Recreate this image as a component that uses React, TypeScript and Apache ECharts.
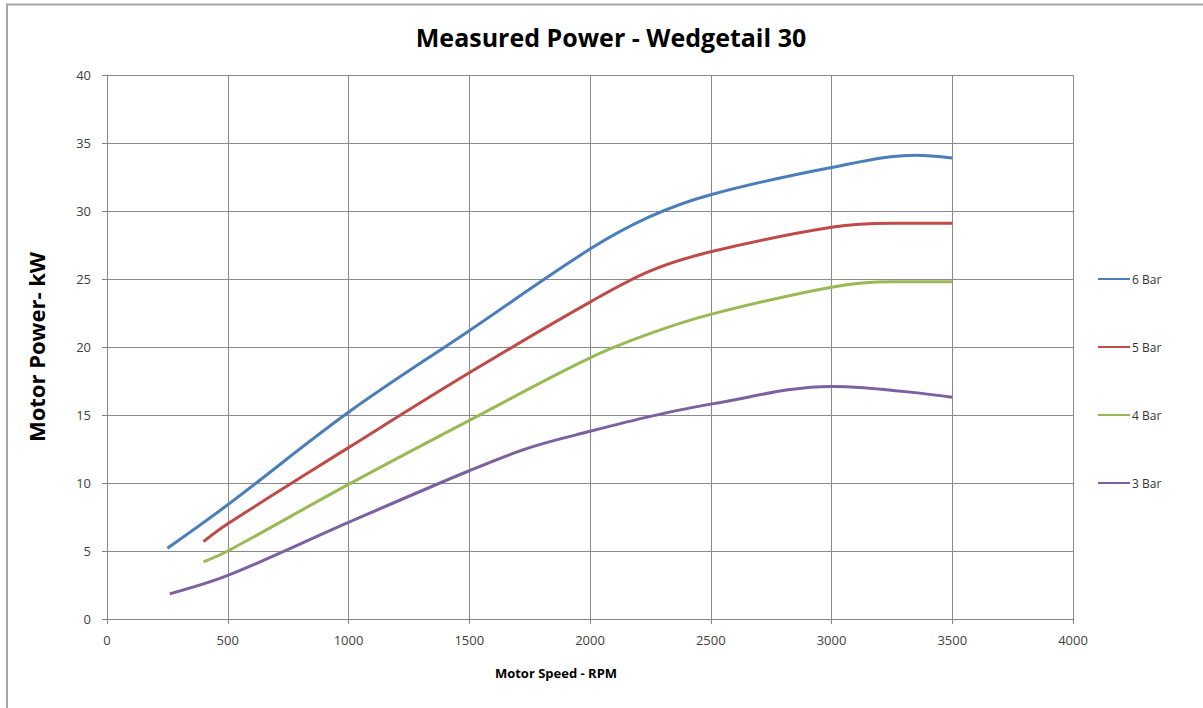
import React, { useEffect, useRef } from "react";
import * as echarts from "echarts";

const seriesNames = ["6 Bar", "5 Bar", "4 Bar", "3 Bar"];
const colors = ["#4A7EBB", "#BE4B48", "#98B954", "#7D60A0"];

const bar6: [number, number][] = [
  [250, 5.2], [500, 8.4], [1000, 15.2], [1500, 21.2], [2000, 27.2],
  [2250, 29.6], [2500, 31.2], [3000, 33.2], [3350, 34.1], [3500, 33.9],
];
const bar5: [number, number][] = [
  [400, 5.7], [500, 7.0], [1000, 12.6], [1500, 18.1], [2000, 23.3],
  [2250, 25.6], [2500, 27.0], [3000, 28.8], [3250, 29.1], [3500, 29.1],
];
const bar4: [number, number][] = [
  [400, 4.2], [500, 5.0], [1000, 9.9], [1500, 14.6], [2000, 19.2],
  [2250, 21.0], [2500, 22.4], [3000, 24.4], [3250, 24.8], [3500, 24.8],
];
const bar3: [number, number][] = [
  [260, 1.85], [500, 3.2], [1000, 7.1], [1500, 10.9], [1750, 12.6],
  [2000, 13.8], [2250, 14.9], [2500, 15.8], [3000, 17.1], [3500, 16.3],
];
const allData = [bar6, bar5, bar4, bar3];

const titleText = "Measured Power - Wedgetail 30";
const xAxisName = "Motor Speed - RPM";
const yAxisName = "Motor Power- kW";

export default function App() {
  const ref = useRef<HTMLDivElement>(null);
  useEffect(() => {
    if (!ref.current) return;
    const chart = echarts.init(ref.current, null, { renderer: "svg" });
    const font = "Open Sans, Liberation Sans, sans-serif";
    chart.setOption({
      animation: false,
      backgroundColor: "#ffffff",
      textStyle: { fontFamily: font },
      title: {
        text: titleText,
        left: 606,
        textAlign: "center",
        top: 19,
        textStyle: { fontSize: 25, fontWeight: "bold", color: "#000", fontFamily: font },
      },
      legend: {
        orient: "vertical",
        left: 1093,
        top: 268,
        itemWidth: 32,
        itemHeight: 14,
        itemGap: 56,
        icon: "path://M0,6 L32,6 L32,8 L0,8 Z",
        data: seriesNames,
        textStyle: { fontSize: 12, color: "#333", fontFamily: font, padding: [0, 0, 0, -3] },
      },
      grid: { left: 107, right: 130, top: 75, bottom: 89, containLabel: false },
      xAxis: {
        type: "value",
        min: 0,
        max: 4000,
        interval: 500,
        name: xAxisName,
        nameLocation: "middle",
        nameGap: 47,
        nameTextStyle: { fontSize: 13, fontWeight: "bold", color: "#000", padding: [0, 68, 0, 0] },
        axisLine: { lineStyle: { color: "#868686", width: 1 } },
        axisTick: { show: true, length: 5, lineStyle: { color: "#868686" } },
        axisLabel: { fontSize: 13, color: "#404040", margin: 14, formatter: (v: number) => String(v) },
        splitLine: { show: true, lineStyle: { color: "#8a8a8a", width: 1 } },
      },
      yAxis: {
        type: "value",
        min: 0,
        max: 40,
        interval: 5,
        name: yAxisName,
        nameLocation: "middle",
        nameGap: 60,
        nameTextStyle: { fontSize: 22, fontWeight: "bold", color: "#000" },
        axisLine: { show: true, lineStyle: { color: "#868686", width: 1 } },
        axisTick: { show: true, length: 5, lineStyle: { color: "#868686" } },
        axisLabel: { fontSize: 13, color: "#404040", margin: 16, formatter: (v: number) => String(v) },
        splitLine: { show: true, lineStyle: { color: "#8a8a8a", width: 1 } },
      },
      graphic: [
        {
          type: "polyline",
          shape: { points: [[7, 708], [7, 4.5], [1203, 4.5]] },
          style: { stroke: "#a6a6a6", lineWidth: 2, fill: "none" },
          silent: true,
        },
      ],
      series: seriesNames.map((name, i) => ({
        name,
        type: "line",
        data: allData[i],
        smooth: 0.35,
        showSymbol: false,
        symbol: "none",
        lineStyle: { color: colors[i], width: 3 },
        itemStyle: { color: colors[i] },
      })),
    });
    return () => chart.dispose();
  }, []);
  return (
    <div
      ref={ref}
      style={{ position: "fixed", left: 0, top: 0, width: 1203, height: 708 }}
    />
  );
}
